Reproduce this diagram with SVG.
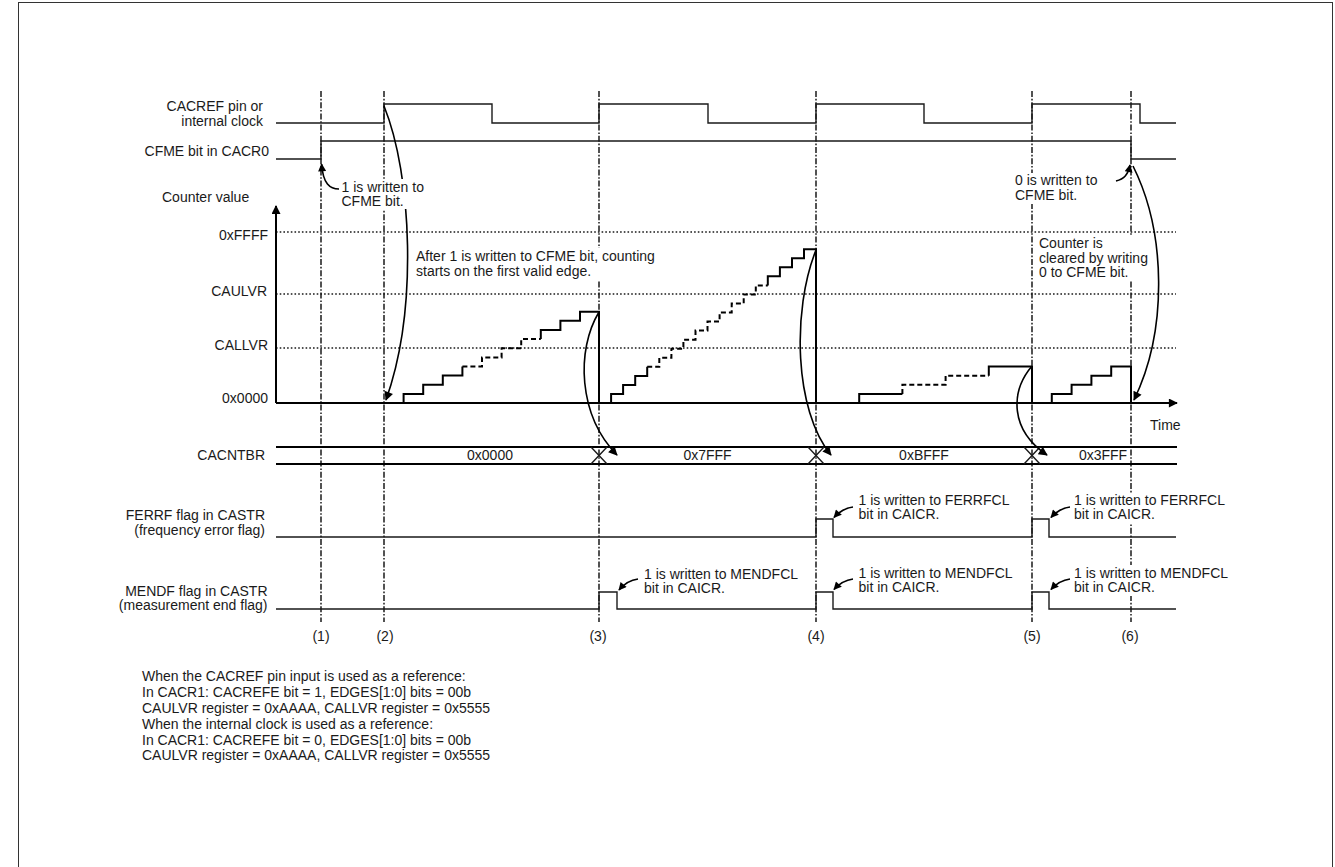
<svg xmlns="http://www.w3.org/2000/svg" width="1335" height="867" viewBox="0 0 1335 867">
<style>
.t{font-family:"Liberation Sans",Arial,sans-serif;font-size:14px;fill:#1a1a1a}
.e{text-anchor:end}
.m{text-anchor:middle}
.guide{fill:none;stroke:#1a1a1a;stroke-width:1.5;stroke-dasharray:6 1.8 1.6 1.8}
.lvl{fill:none;stroke:#1a1a1a;stroke-width:1.4;stroke-dasharray:1.6 2.1}
.sig{fill:none;stroke:#1a1a1a;stroke-width:1.4}
.cnt{fill:none;stroke:#000;stroke-width:2}
.cntd{fill:none;stroke:#000;stroke-width:2;stroke-dasharray:5 3}
.ax{fill:none;stroke:#000;stroke-width:2}
.arr{fill:none;stroke:#000;stroke-width:1.6}
.bg{fill:#fff}
</style>
<defs>
<marker id="ah" viewBox="0 0 10 10" refX="9" refY="5" markerWidth="11" markerHeight="9" markerUnits="userSpaceOnUse" orient="auto">
<path d="M0,0 L10,5 L0,10 z" fill="#000"/>
</marker>
<marker id="as" viewBox="0 0 10 10" refX="9" refY="5" markerWidth="10" markerHeight="8" markerUnits="userSpaceOnUse" orient="auto">
<path d="M0,0 L10,5 L0,10 z" fill="#000"/>
</marker>
</defs>
<rect x="0" y="0" width="1335" height="867" fill="#fff"/>
<rect x="18.5" y="2.5" width="1314" height="880" fill="none" stroke="#333" stroke-width="1"/>

<g id="guides">
<path class="guide" d="M321,91V622M384,91V622M599,91V622M816,91V622M1032,91V622M1131,91V622"/>
</g>

<g id="levels">
<path class="lvl" d="M276,232H1176M276,294H1176M276,348H1176"/>
</g>

<g id="cacref-signal">
<text class="t e" x="263" y="111">CACREF pin or</text>
<text class="t e" x="263" y="125.5">internal clock</text>
<path class="sig" d="M276,123H384V104H492V123H599V104H708V123H816V104H924V123H1032V104H1140V123H1176"/>
</g>

<g id="cfme-signal">
<text class="t e" x="269" y="156">CFME bit in CACR0</text>
<path class="sig" d="M276,159H321V141H1131V159H1176"/>
</g>

<g id="counter">
<text class="t" x="162" y="202">Counter value</text>
<text class="t e" x="268" y="240">0xFFFF</text>
<text class="t e" x="267" y="295.5">CAULVR</text>
<text class="t e" x="268" y="349.5">CALLVR</text>
<text class="t e" x="268" y="403">0x0000</text>
<text class="t" x="1150" y="430">Time</text>
<path class="ax" d="M276,403V206" marker-end="url(#ah)"/>
<path class="ax" d="M276,403H1177" marker-end="url(#ah)"/>
<path class="cnt" d="M384,403H403.6V393.9H423.2V384.7H442.8V375.6H462.4V366.5"/>
<path class="cntd" d="M462.4,366.5H482V357.4H501.6V348.2H521.2V339.1H540.8"/>
<path class="cnt" d="M540.8,339.1V330H560.4V320.8H580V311.7H599V403H611.1V394H623.1V384.9H635.2V375.9H647.2V366.8"/>
<path class="cntd" d="M647.2,366.8H659.3V357.8H671.4V348.7H683.4V339.7H695.5V330.6H707.5V321.6H719.6V312.5H731.7V303.5H743.7V294.4H755.8V285.4H767.8"/>
<path class="cnt" d="M767.8,285.4V276.3H779.9V267.3H792V258.2H804V249.2H816V403H859.2V393.9H902.4"/>
<path class="cntd" d="M902.4,393.9V384.8H945.6V375.7H988.8"/>
<path class="cnt" d="M988.8,375.7V366.6H1032V403H1051.8V393.9H1071.6V384.8H1091.4V375.7H1111.2V366.6H1131V403"/>
</g>

<g id="cacntbr-bus">
<text class="t e" x="265" y="459.5">CACNTBR</text>
<path class="cnt" d="M276,447H1177M276,464H1177"/>
<path class="sig" d="M591,447L607,464M591,464L607,447M808,447L824,464M808,464L824,447M1024,447L1040,464M1024,464L1040,447"/>
<text class="t m" x="490" y="459.5">0x0000</text>
<text class="t m" x="707.5" y="459.5">0x7FFF</text>
<text class="t m" x="924" y="459.5">0xBFFF</text>
<text class="t m" x="1103" y="459.5">0x3FFF</text>
</g>

<g id="ferrf-signal">
<text class="t e" x="265" y="520">FERRF flag in CASTR</text>
<text class="t e" x="265" y="534.5">(frequency error flag)</text>
<path class="sig" d="M276,537H816V519H833V537H1032V519H1049V537H1176"/>
</g>

<g id="mendf-signal">
<text class="t e" x="267.5" y="595.5">MENDF flag in CASTR</text>
<text class="t e" x="267.5" y="610">(measurement end flag)</text>
<path class="sig" d="M276,609H599V592H617V609H816V592H833V609H1032V592H1049V609H1176"/>
</g>

<g id="connectors">
<path class="arr" d="M384,106C412,175 418,310 386,400" marker-end="url(#ah)"/>
<path class="arr" d="M599,312C576,350 578,415 617,455" marker-end="url(#ah)"/>
<path class="arr" d="M816,250C792,310 794,410 831,455" marker-end="url(#ah)"/>
<path class="arr" d="M1032,366C1010,392 1010,430 1047,455" marker-end="url(#ah)"/>
<path class="arr" d="M1133,166C1166,232 1168,330 1134,400" marker-end="url(#ah)"/>
<path class="arr" d="M339,189C330,189 323,184 321.6,164" marker-end="url(#as)"/>
<path class="arr" d="M1116,181C1124,179 1128,175 1130,165" marker-end="url(#as)"/>
<path class="arr" d="M638,579C630,580 624,584 619,590" marker-end="url(#as)"/>
<path class="arr" d="M853,507C845,508 839,512 834,517.5" marker-end="url(#as)"/>
<path class="arr" d="M853,579C845,580 839,584 834,589.5" marker-end="url(#as)"/>
<path class="arr" d="M1070,507C1062,508 1056,512 1051,517.5" marker-end="url(#as)"/>
<path class="arr" d="M1070,579C1062,580 1056,584 1051,589.5" marker-end="url(#as)"/>
</g>

<g id="note-cfme-set">
<rect class="bg" x="340" y="179" width="86" height="30"/>
<text class="t" x="341.5" y="191.5">1 is written to</text>
<text class="t" x="341.5" y="205.5">CFME bit.</text>
</g>

<g id="note-counting">
<rect class="bg" x="414" y="248" width="247" height="32"/>
<text class="t" x="416" y="260.5">After 1 is written to CFME bit, counting</text>
<text class="t" x="416" y="275.5">starts on the first valid edge.</text>
</g>

<g id="note-cfme-clear">
<rect class="bg" x="1013" y="173" width="87" height="31"/>
<text class="t" x="1015" y="185">0 is written to</text>
<text class="t" x="1015" y="199.5">CFME bit.</text>
</g>

<g id="note-counter-cleared">
<rect class="bg" x="1037" y="236" width="114" height="45"/>
<text class="t" x="1039" y="248">Counter is</text>
<text class="t" x="1039" y="262.5">cleared by writing</text>
<text class="t" x="1039" y="276.5">0 to CFME bit.</text>
</g>

<g id="note-mendfcl-3">
<text class="t" x="644" y="579">1 is written to MENDFCL</text>
<text class="t" x="644" y="593">bit in CAICR.</text>
</g>

<g id="note-ferrfcl-4">
<text class="t" x="858.5" y="505">1 is written to FERRFCL</text>
<text class="t" x="858.5" y="519">bit in CAICR.</text>
</g>

<g id="note-mendfcl-4">
<text class="t" x="858.5" y="577.5">1 is written to MENDFCL</text>
<text class="t" x="858.5" y="591.5">bit in CAICR.</text>
</g>

<g id="note-ferrfcl-5">
<rect class="bg" x="1072" y="493" width="156" height="30"/>
<text class="t" x="1074" y="505">1 is written to FERRFCL</text>
<text class="t" x="1074" y="519">bit in CAICR.</text>
</g>

<g id="note-mendfcl-5">
<rect class="bg" x="1072" y="565" width="159" height="31"/>
<text class="t" x="1074" y="577.5">1 is written to MENDFCL</text>
<text class="t" x="1074" y="591.5">bit in CAICR.</text>
</g>

<g id="time-marks">
<text class="t m" x="321" y="641">(1)</text>
<text class="t m" x="385" y="641">(2)</text>
<text class="t m" x="598" y="641">(3)</text>
<text class="t m" x="816" y="641">(4)</text>
<text class="t m" x="1032" y="641">(5)</text>
<text class="t m" x="1130" y="641">(6)</text>
</g>

<g id="settings-note">
<text class="t" x="142" y="681">When the CACREF pin input is used as a reference:</text>
<text class="t" x="142" y="697">In CACR1: CACREFE bit = 1, EDGES[1:0] bits = 00b</text>
<text class="t" x="142" y="713">CAULVR register = 0xAAAA, CALLVR register = 0x5555</text>
<text class="t" x="142" y="728.5">When the internal clock is used as a reference:</text>
<text class="t" x="142" y="744.5">In CACR1: CACREFE bit = 0, EDGES[1:0] bits = 00b</text>
<text class="t" x="142" y="760">CAULVR register = 0xAAAA, CALLVR register = 0x5555</text>
</g>
</svg>
